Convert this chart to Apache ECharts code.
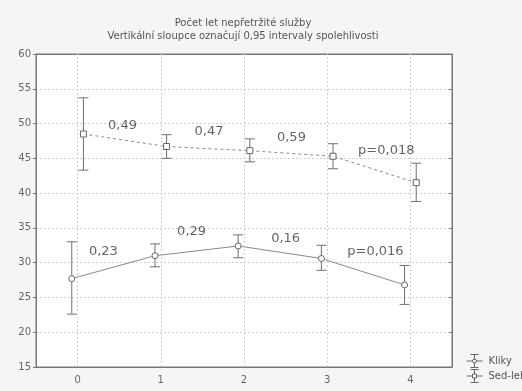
<!DOCTYPE html>
<html>
<head>
<meta charset="utf-8">
<script src="https://cdn.jsdelivr.net/npm/echarts@6/dist/echarts.min.js"></script>
<style>
html,body{margin:0;padding:0;background:#f5f5f5;}
#c{width:522px;height:391px;}
</style>
</head>
<body>
<div id="c"></div>
<script>
// ---- data ----
const categories = ['0', '1', '2', '3', '4'];
const seriesNames = ['Kliky', 'Sed-lehy'];
const klikyMean = [27.7, 31.0, 32.4, 30.6, 26.8];
const klikyLow  = [22.6, 29.4, 30.7, 28.9, 24.0];
const klikyHigh = [33.0, 32.7, 34.0, 32.5, 29.6];
const sedMean = [48.5, 46.7, 46.1, 45.3, 41.5];
const sedLow  = [43.3, 45.0, 44.5, 43.5, 38.8];
const sedHigh = [53.7, 48.4, 47.8, 47.1, 44.3];
const yTicks = [15, 20, 25, 30, 35, 40, 45, 50, 55, 60];
// annotations (text, x in category units, y in value units)
const klikyNoteText = ['0,23', '0,29', '0,16', 'p=0,016'];
const klikyNoteX = [0.31, 1.37, 2.5, 3.58];
const klikyNoteY = [31.6, 34.5, 33.5, 31.6];
const sedNoteText = ['0,49', '0,47', '0,59', 'p=0,018'];
const sedNoteX = [0.54, 1.58, 2.57, 3.71];
const sedNoteY = [49.7, 48.85, 48.0, 46.1];

const DODGE = 0.07;
const FONT = 'DejaVu Sans';
const chart = echarts.init(document.getElementById('c'));

function pts(mean, shift) { return mean.map((v, i) => [i + shift, v]); }
function errData(low, high, shift) { return low.map((l, i) => [i + shift, l, high[i]]); }
function errSeries(low, high, shift) {
  return {
    type: 'custom', xAxisIndex: 1, silent: true, z: 3,
    data: errData(low, high, shift),
    renderItem: function (params, api) {
      const x = api.value(0);
      const a = api.coord([x, api.value(1)]);
      const b = api.coord([x, api.value(2)]);
      const w = 5;
      const st = { stroke: '#707070', lineWidth: 1 };
      return { type: 'group', children: [
        { type: 'line', shape: { x1: a[0], y1: a[1], x2: b[0], y2: b[1] }, style: st },
        { type: 'line', shape: { x1: a[0] - w, y1: a[1], x2: a[0] + w, y2: a[1] }, style: st },
        { type: 'line', shape: { x1: b[0] - w, y1: b[1], x2: b[0] + w, y2: b[1] }, style: st }
      ]};
    }
  };
}
function notes(text, xs, ys) {
  return {
    type: 'scatter', xAxisIndex: 1, silent: true, symbolSize: 1,
    itemStyle: { color: 'rgba(0,0,0,0)' }, z: 5,
    data: text.map((t, i) => ({ value: [xs[i], ys[i]], name: t })),
    label: { show: true, position: 'inside', formatter: p => p.name,
      color: '#3c3c3c', fontSize: 13, fontFamily: FONT }
  };
}

const gridDotted = { show: true, lineStyle: { color: '#d0d0d0', type: [2, 2], width: 1 } };

chart.setOption({
  backgroundColor: '#f5f5f5',
  animation: false,
  title: {
    text: 'Počet let nepřetržité služby',
    subtext: 'Vertikální sloupce označují 0,95 intervaly spolehlivosti',
    left: 238, top: 13, textAlign: 'center', itemGap: 3,
    textStyle: { fontSize: 10, fontWeight: 'normal', color: '#555', fontFamily: FONT },
    subtextStyle: { fontSize: 10, color: '#555', fontFamily: FONT }
  },
  legend: {
    orient: 'vertical', left: 461, top: 349, itemGap: 1,
    itemWidth: 18, itemHeight: 13,
    data: [
      { name: seriesNames[0], icon: 'path://M4,0L12,0M8,0L8,5M0,6.5L6,6.5M10,6.5L16,6.5M8,8L8,13M4,13L12,13M6,6.5A2,2,0,1,1,10,6.5A2,2,0,1,1,6,6.5Z' },
      { name: seriesNames[1], icon: 'path://M4,0L12,0M8,0L8,4.5M0,6.5L6,6.5M10,6.5L16,6.5M8,8.5L8,13M4,13L12,13M6,4.5L10,4.5L10,8.5L6,8.5Z' }
    ],
    itemStyle: { color: 'rgba(0,0,0,0)', borderColor: '#666', borderWidth: 1 },
    lineStyle: { opacity: 0 },
    textStyle: { fontSize: 10, color: '#555', fontFamily: FONT }
  },
  grid: { left: 36, right: 70, top: 54, bottom: 24, show: true, backgroundColor: '#ffffff',
          borderColor: '#777', borderWidth: 1 },
  xAxis: [
    { type: 'category', data: categories, boundaryGap: true, position: 'bottom',
      axisLine: { onZero: false, lineStyle: { color: '#777' } },
      axisTick: { alignWithLabel: true, inside: true, length: 3, lineStyle: { color: '#777' } },
      axisLabel: { color: '#666', fontSize: 10, fontFamily: FONT, margin: 8 },
      splitLine: { show: false } },
    { type: 'value', min: -0.5, max: 4.5, show: false, splitLine: { show: false },
      axisLine: { onZero: false } },
    { type: 'category', data: categories, boundaryGap: true, position: 'top',
      axisLine: { onZero: false, lineStyle: { color: '#777' } },
      axisTick: { alignWithLabel: true, inside: true, length: 3, lineStyle: { color: '#777' } },
      axisLabel: { show: false }, splitLine: { show: false } }
  ],
  yAxis: [
    { type: 'value', min: yTicks[0], max: yTicks[yTicks.length - 1], interval: 5,
      axisLine: { show: true, onZero: false, lineStyle: { color: '#777' } },
      axisTick: { show: true, length: 3, lineStyle: { color: '#777' } },
      axisLabel: { color: '#666', fontSize: 10, fontFamily: FONT, margin: 5 },
      splitLine: gridDotted },
    { type: 'value', min: yTicks[0], max: yTicks[yTicks.length - 1], interval: 5, position: 'right',
      axisLine: { show: true, onZero: false, lineStyle: { color: '#777' } },
      axisTick: { show: true, inside: true, length: 3, lineStyle: { color: '#777' } },
      axisLabel: { show: false }, splitLine: { show: false } }
  ],
  series: [
    { name: seriesNames[0], type: 'line', xAxisIndex: 1, data: pts(klikyMean, -DODGE), z: 4,
      symbol: 'circle', symbolSize: 6, showSymbol: true,
      itemStyle: { color: '#fff', borderColor: '#666', borderWidth: 1 },
      lineStyle: { color: '#8a8a8a', width: 1 },
      markLine: { silent: true, symbol: 'none', label: { show: false },
        lineStyle: { color: '#d0d0d0', type: [2, 2], width: 1 },
        data: categories.map((c, i) => ({ xAxis: i })) } },
    { name: seriesNames[1], type: 'line', xAxisIndex: 1, data: pts(sedMean, DODGE), z: 4,
      symbol: 'rect', symbolSize: 6, showSymbol: true,
      itemStyle: { color: '#fff', borderColor: '#666', borderWidth: 1 },
      lineStyle: { color: '#8a8a8a', width: 1, type: [3, 3] } },
    errSeries(klikyLow, klikyHigh, -DODGE),
    errSeries(sedLow, sedHigh, DODGE),
    notes(klikyNoteText, klikyNoteX, klikyNoteY),
    notes(sedNoteText, sedNoteX, sedNoteY)
  ]
});
</script>
</body>
</html>
